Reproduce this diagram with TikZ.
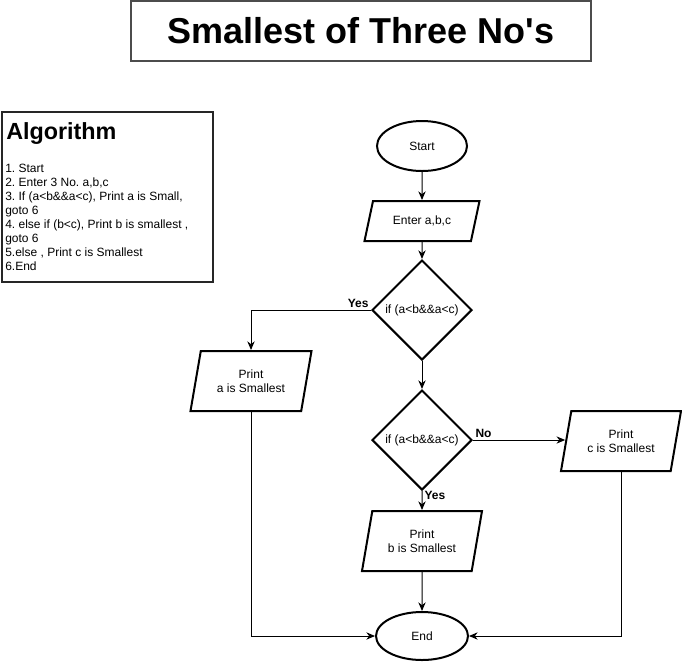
\documentclass[tikz,border=0pt]{standalone}
\usepackage{fontspec}
\setmainfont{Liberation Sans}
\usetikzlibrary{shapes.geometric,arrows.meta}
\frenchspacing
\tikzstyle{titlebox} = [draw=black!70, line width=1.5pt, rectangle,
    minimum width=345pt, minimum height=45pt, font=\fontsize{27}{30}\selectfont\bfseries]
\tikzstyle{algobox} = [draw=black!85, line width=1.5pt, rectangle, anchor=north west,
    minimum width=158.25pt, minimum height=127.5pt]
\tikzstyle{smalltext} = [font=\fontsize{9}{10.5}\selectfont]
\tikzstyle{startstop} = [smalltext, draw=black, line width=1.5pt, ellipse,
    minimum width=67.5pt, minimum height=37.5pt]
\tikzstyle{io} = [smalltext, draw=black, line width=1.5pt, trapezium,
    trapezium stretches body, align=center]
\tikzstyle{decision} = [smalltext, draw=black, line width=1.5pt, diamond, aspect=1,
    inner sep=0pt, minimum width=75pt, minimum height=75pt]
\tikzstyle{answer} = [font=\fontsize{9}{10.5}\selectfont\bfseries, inner sep=1.5pt]
\tikzstyle{arrow} = [line width=0.75pt, -{Stealth[length=6.5pt,width=5.5pt]}]

\begin{document}
\begin{tikzpicture}[x=0.75pt, y=-0.75pt]
    \useasboundingbox (0,0) rectangle (682,662);
    \node [titlebox] (title) at (361,31) {Smallest of Three No\textquotesingle s};
    \node [algobox] (algo) at (1,111) {};
    \node [anchor=base west, inner sep=0pt, font=\fontsize{17.5}{20}\selectfont\bfseries]
        (algohead) at (6,139) {Algorithm};
    \node [smalltext, anchor=north west, inner sep=0pt, align=left] (algosteps) at (5,163.5) {%
        1. Start\\
        2. Enter 3 No. a,b,c\\
        3. If (a<b\&\&a<c), Print a is Small,\\
        goto 6\\
        4. else if (b<c), Print b is smallest ,\\
        goto 6\\
        5.else , Print c is Smallest\\
        6.End};

    \node [startstop] (start) at (422,146) {Start};
    \node [io, trapezium left angle=66, trapezium right angle=114,
        minimum width=86.25pt, minimum height=30pt] (enter) at (422,221) {Enter a,b,c};
    \node [decision] (cond1) at (422,310) {if (a<b\&\&a<c)};
    \node [decision] (cond2) at (422,440) {if (a<b\&\&a<c)};
    \node [io, trapezium left angle=72, trapezium right angle=108,
        minimum width=90.75pt, minimum height=45pt] (printa) at (251,381) {Print\\a is Smallest};
    \node [io, trapezium left angle=72, trapezium right angle=108,
        minimum width=90pt, minimum height=45pt] (printb) at (422,541) {Print\\b is Smallest};
    \node [io, trapezium left angle=72, trapezium right angle=108,
        minimum width=90pt, minimum height=45pt] (printc) at (621,441) {Print\\c is Smallest};
    \node [startstop, minimum width=69pt, minimum height=36pt] (stop) at (422,636) {End};

    \draw [arrow] (start) -- (enter);
    \draw [arrow] (enter) -- (cond1);
    \draw [arrow] (cond1.west) node [answer, above left] (yesa) {Yes} -| (printa.north);
    \draw [arrow] (cond1) -- (cond2);
    \draw [arrow] (cond2.east) node [answer, above right] (noc) {No} -- (cond2.east -| printc.west);
    \draw [arrow] (cond2.south) node [answer, right, yshift=-3pt] (yesb) {Yes} -- (printb);
    \draw [arrow] (printb) -- (stop);
    \draw [arrow] (printa.south) |- (stop.west);
    \draw [arrow] (printc.south) |- (stop.east);
\end{tikzpicture}
\end{document}
